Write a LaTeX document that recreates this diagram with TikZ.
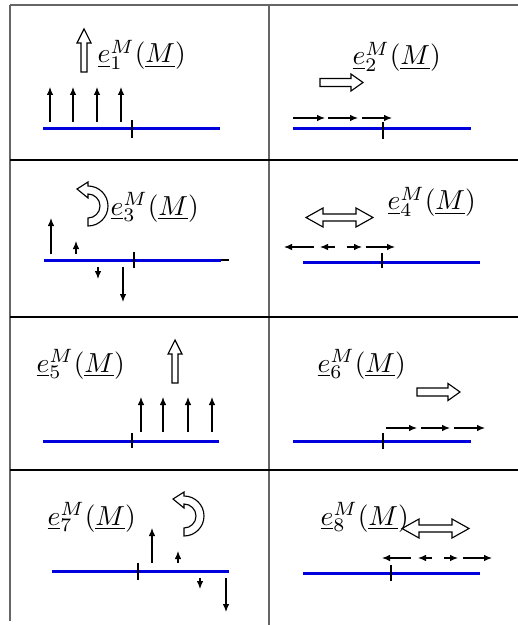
\documentclass[tikz,border=0pt]{standalone}
\usetikzlibrary{arrows.meta}
\definecolor{beamblue}{RGB}{0,0,220}
\tikzset{
  gridline/.style={line width=0.5pt, black},
  frameline/.style={line width=0.8pt, black!60},
  beam/.style={line width=1.2pt, draw=beamblue},
  tickmark/.style={line width=0.5pt, black},
  force/.style={line width=0.45pt, -{Latex[length=3.2pt,width=2.6pt]}},
  hollow/.style={draw, fill=white, line width=0.45pt},
  lbl/.style={anchor=base west, inner sep=0pt, scale=1.1},
  uparrowpic/.pic={\draw[hollow] (-3,0) -- (-3,-29) -- (-7,-29) -- (0,-43) -- (7,-29) -- (3,-29) -- (3,0) -- cycle;},
  rightarrowpic/.pic={\draw[hollow] (0,-4) -- (31,-4) -- (31,-8.5) -- (43,0) -- (31,8.5) -- (31,4) -- (0,4) -- cycle;},
  doublearrowpic/.pic={\draw[hollow] (0,0) -- (17,-9.5) -- (17,-3.5) -- (50,-3.5) -- (50,-9.5) -- (67,0) -- (50,9.5) -- (50,3.5) -- (17,3.5) -- (17,9.5) -- cycle;},
  curvedarrowpic/.pic={\draw[hollow] (0,20) arc[start angle=90, end angle=-90, radius=20] -- (0,-24) -- (-11,-17) -- (0,-8) -- (0,-12) arc[start angle=-90, end angle=90, radius=12] -- cycle;}
}
\begin{document}
\begin{tikzpicture}[x=0.4pt, y=-0.4pt]
\useasboundingbox (0,0) rectangle (518,625);
% table grid
\coordinate (tl) at (10,5);
\coordinate (tr) at (518,5);
\coordinate (bl) at (10,621);
\coordinate (mt) at (269,5);
\coordinate (mb) at (269,625);
\draw[frameline] (tl) -- (tr);
\draw[frameline] (tl) -- (bl);
\draw[frameline] (mt) -- (mb);
\foreach \yy/\nm in {160/ra, 317/rb, 470/rc} {
  \coordinate (\nm l) at (10,\yy);
  \coordinate (\nm r) at (518,\yy);
  \draw[gridline] (\nm l) -- (\nm r);
}

% ---------- cell 1 ----------
\coordinate (b1a) at (43,129); \coordinate (b1b) at (220,129);
\draw[beam] (b1a) -- (b1b);
\coordinate (t1a) at (132,120); \coordinate (t1b) at (132,138);
\draw[tickmark] (t1a) -- (t1b);
\foreach \xx in {50,73,97,121} { \coordinate (f1s\xx) at (\xx,122); \coordinate (f1e\xx) at (\xx,87); \draw[force] (f1s\xx) -- (f1e\xx); }
\pic at (84,72) {uparrowpic};
\node[lbl] (l1) at (97,63) {$\underline{e}_1^M(\underline{M})$};

% ---------- cell 2 ----------
\coordinate (b2a) at (293,129); \coordinate (b2b) at (471,129);
\draw[beam] (b2a) -- (b2b);
\coordinate (t2a) at (383,122); \coordinate (t2b) at (383,139);
\draw[tickmark] (t2a) -- (t2b);
\foreach \xa/\xb in {293/325, 328/358, 362/392} { \coordinate (f2s\xa) at (\xa,118); \coordinate (f2e\xa) at (\xb,118); \draw[force] (f2s\xa) -- (f2e\xa); }
\pic at (320,82.5) {rightarrowpic};
\node[lbl] (l2) at (352,65) {$\underline{e}_2^M(\underline{M})$};

% ---------- cell 3 ----------
\coordinate (b3a) at (44,260); \coordinate (b3b) at (221,260); \coordinate (b3c) at (229,260);
\draw[tickmark] (b3a) -- (b3c);
\draw[beam] (b3a) -- (b3b);
\coordinate (t3a) at (134,252); \coordinate (t3b) at (134,268);
\draw[tickmark] (t3a) -- (t3b);
\coordinate (f3a) at (51,254); \coordinate (f3b) at (51,218); \draw[force] (f3a) -- (f3b);
\coordinate (f3c) at (76,254); \coordinate (f3d) at (76,241); \draw[force] (f3c) -- (f3d);
\coordinate (f3e) at (98,267); \coordinate (f3f) at (98,279); \draw[force] (f3e) -- (f3f);
\coordinate (f3g) at (123,267); \coordinate (f3h) at (123,302); \draw[force] (f3g) -- (f3h);
\pic at (88,206) {curvedarrowpic};
\node[lbl] (l3) at (110,215) {$\underline{e}_3^M(\underline{M})$};

% ---------- cell 4 ----------
\coordinate (b4a) at (303,262); \coordinate (b4b) at (480,262);
\draw[beam] (b4a) -- (b4b);
\coordinate (t4a) at (382,253); \coordinate (t4b) at (382,268);
\draw[tickmark] (t4a) -- (t4b);
\foreach \xa/\xb in {314/284, 335/320, 347/362, 366/395} { \coordinate (f4s\xa) at (\xa,247); \coordinate (f4e\xa) at (\xb,247); \draw[force] (f4s\xa) -- (f4e\xa); }
\pic at (306,217.5) {doublearrowpic};
\node[lbl] (l4) at (387,210) {$\underline{e}_4^M(\underline{M})$};

% ---------- cell 5 ----------
\coordinate (b5a) at (43,441); \coordinate (b5b) at (219,441);
\draw[beam] (b5a) -- (b5b);
\coordinate (t5a) at (132,433); \coordinate (t5b) at (132,448);
\draw[tickmark] (t5a) -- (t5b);
\foreach \xx in {141,163,188,212} { \coordinate (f5s\xx) at (\xx,432); \coordinate (f5e\xx) at (\xx,397); \draw[force] (f5s\xx) -- (f5e\xx); }
\pic at (175,383) {uparrowpic};
\node[lbl] (l5) at (36,372) {$\underline{e}_5^M(\underline{M})$};

% ---------- cell 6 ----------
\coordinate (b6a) at (293,441); \coordinate (b6b) at (471,441);
\draw[beam] (b6a) -- (b6b);
\coordinate (t6a) at (383,433); \coordinate (t6b) at (383,449);
\draw[tickmark] (t6a) -- (t6b);
\foreach \xa/\xb in {386/417, 421/450, 454/485} { \coordinate (f6s\xa) at (\xa,428); \coordinate (f6e\xa) at (\xb,428); \draw[force] (f6s\xa) -- (f6e\xa); }
\pic at (417,392) {rightarrowpic};
\node[lbl] (l6) at (317,372) {$\underline{e}_6^M(\underline{M})$};

% ---------- cell 7 ----------
\coordinate (b7a) at (52,571); \coordinate (b7b) at (229,571);
\draw[beam] (b7a) -- (b7b);
\coordinate (t7a) at (138,563); \coordinate (t7b) at (138,580);
\draw[tickmark] (t7a) -- (t7b);
\coordinate (f7a) at (152,563); \coordinate (f7b) at (152,528); \draw[force] (f7a) -- (f7b);
\coordinate (f7c) at (178,563); \coordinate (f7d) at (178,551); \draw[force] (f7c) -- (f7d);
\coordinate (f7e) at (200,578); \coordinate (f7f) at (200,589); \draw[force] (f7e) -- (f7f);
\coordinate (f7g) at (226,578); \coordinate (f7h) at (226,612); \draw[force] (f7g) -- (f7h);
\pic at (184,516) {curvedarrowpic};
\node[lbl] (l7) at (47,525) {$\underline{e}_7^M(\underline{M})$};

% ---------- cell 8 ----------
\coordinate (b8a) at (303,573); \coordinate (b8b) at (480,573);
\draw[beam] (b8a) -- (b8b);
\coordinate (t8a) at (391,565); \coordinate (t8b) at (391,581);
\draw[tickmark] (t8a) -- (t8b);
\foreach \xa/\xb in {411/382, 432/418, 444/458, 463/492} { \coordinate (f8s\xa) at (\xa,558); \coordinate (f8e\xa) at (\xb,558); \draw[force] (f8s\xa) -- (f8e\xa); }
\pic at (402,528.5) {doublearrowpic};
\node[lbl] (l8) at (320,525) {$\underline{e}_8^M(\underline{M})$};
\end{tikzpicture}
\end{document}
